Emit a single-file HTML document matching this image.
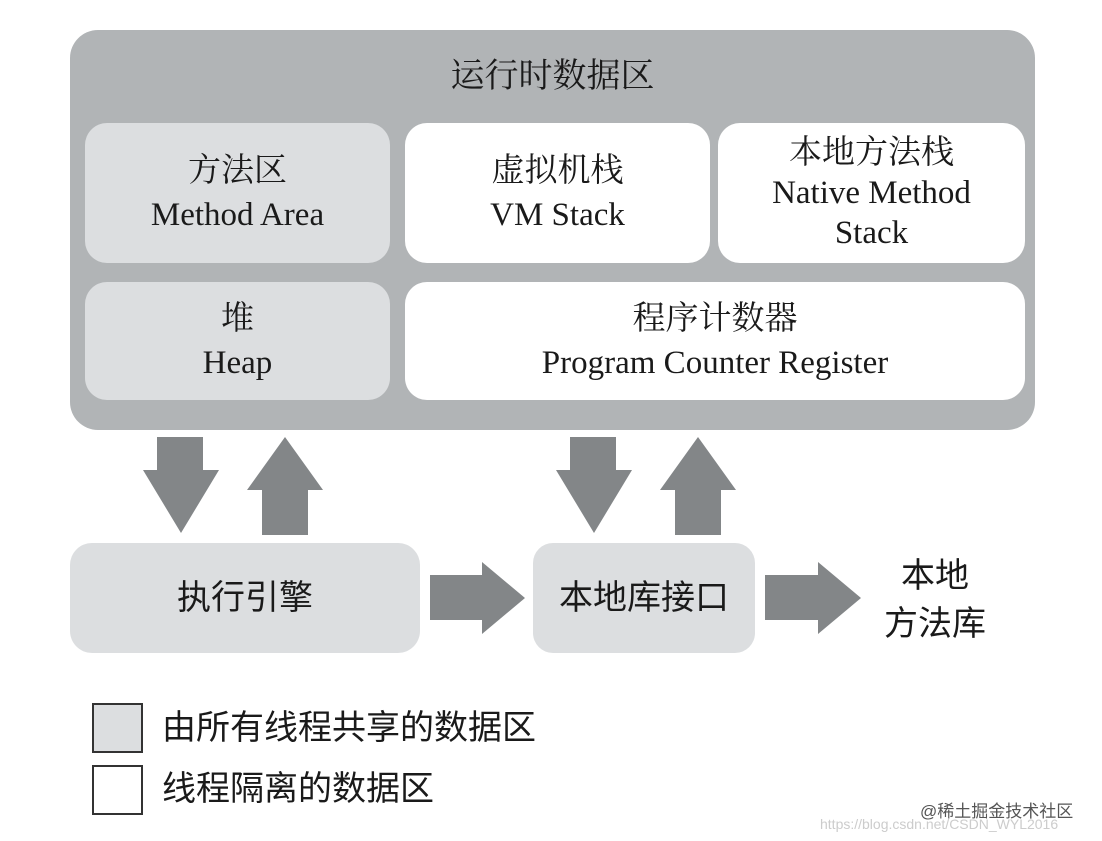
<!DOCTYPE html>
<html><head><meta charset="utf-8"><style>
body{margin:0;width:1102px;height:841px;background:#fff;position:relative;overflow:hidden;font-family:"Liberation Serif","Noto Serif CJK SC",serif;color:#1a1a1a}
.a{position:absolute;box-sizing:border-box}
.b{display:flex;flex-direction:column;align-items:center;justify-content:center;text-align:center;font-size:33px;line-height:44px;border-radius:22px}
.g{background:#dcdee0}.w{background:#fff}
.s{font-family:"Liberation Sans","Noto Sans CJK SC",sans-serif}
</style></head><body>
<div class="a" style="left:70px;top:30px;width:965px;height:400px;background:#b1b4b6;border-radius:28px"></div>
<div class="a" style="left:70px;top:48px;width:965px;text-align:center;font-size:34px">运行时数据区</div>
<div class="a b g" style="left:85px;top:123px;width:305px;height:140px">方法区<br>Method Area</div>
<div class="a b w" style="left:405px;top:123px;width:305px;height:140px">虚拟机栈<br>VM Stack</div>
<div class="a b w" style="left:718px;top:123px;width:307px;height:140px;line-height:40px">本地方法栈<br>Native Method<br>Stack</div>
<div class="a b g" style="left:85px;top:282px;width:305px;height:118px">堆<br>Heap</div>
<div class="a b w" style="left:405px;top:282px;width:620px;height:118px">程序计数器<br>Program Counter Register</div>
<svg class="a" style="left:0;top:0" width="1102" height="841">
<g fill="#838688">
<polygon points="157,437 203,437 203,470 219,470 181,533 143,470 157,470"/>
<polygon points="285,437 323,490 308,490 308,535 262,535 262,490 247,490"/>
<polygon points="570,437 616,437 616,470 632,470 594,533 556,470 570,470"/>
<polygon points="698,437 736,490 721,490 721,535 675,535 675,490 660,490"/>
<polygon points="430,575 482,575 482,562 525,598 482,634 482,620 430,620"/>
<polygon points="765,575 818,575 818,562 861,598 818,634 818,620 765,620"/>
</g>
</svg>
<div class="a b g s" style="left:70px;top:543px;width:350px;height:110px;font-size:34px">执行引擎</div>
<div class="a b g s" style="left:533px;top:543px;width:222px;height:110px;font-size:34px;border-radius:20px">本地库接口</div>
<div class="a s" style="left:870px;top:552px;width:130px;text-align:center;font-size:34px;line-height:48px">本地<br>方法库</div>
<div class="a" style="left:92px;top:703px;width:51px;height:50px;background:#dcdee0;border:2px solid #333"></div>
<div class="a" style="left:92px;top:765px;width:51px;height:50px;background:#fff;border:2px solid #333"></div>
<div class="a s" style="left:162px;top:705px;font-size:34px;line-height:46px">由所有线程共享的数据区</div>
<div class="a s" style="left:162px;top:766px;font-size:34px;line-height:46px">线程隔离的数据区</div>
<div class="a s" style="left:920px;top:797px;font-size:17px;color:#555">@稀土掘金技术社区</div>
<div class="a s" style="left:820px;top:816px;font-size:14px;color:#ccc">https://blog.csdn.net/CSDN_WYL2016</div>
</body></html>
